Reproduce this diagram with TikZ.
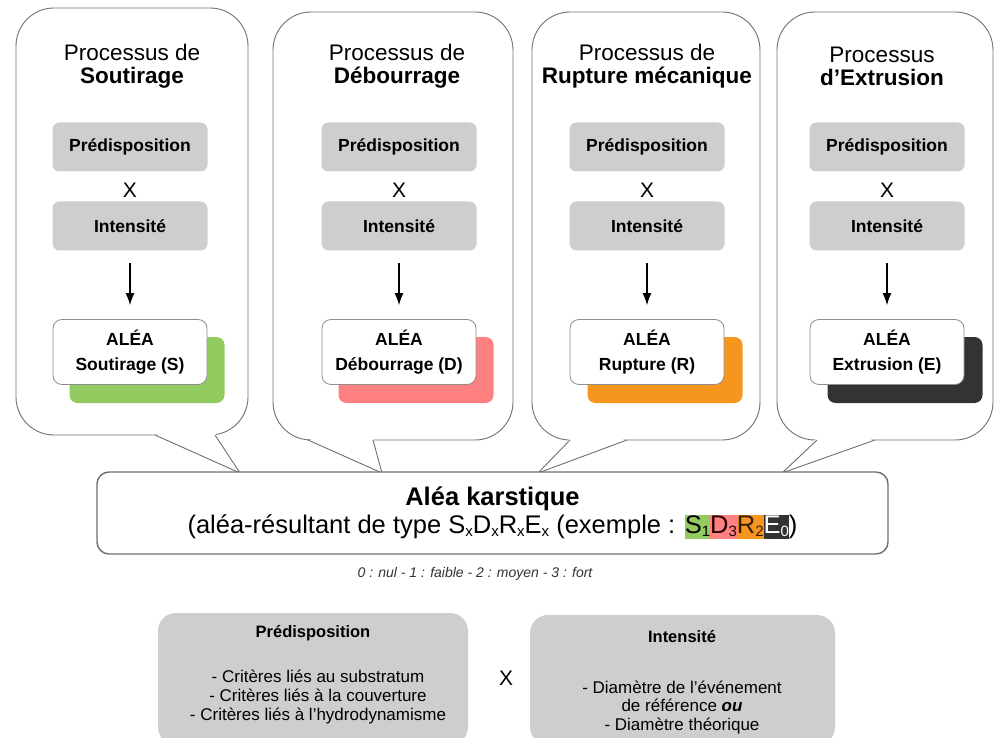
\documentclass[tikz,border=0pt]{standalone}
\usepackage{fontspec}
\setmainfont{Liberation Sans}
\usetikzlibrary{arrows.meta,positioning}

\definecolor{bubbleline}{RGB}{112,112,112}
\definecolor{boxgray}{RGB}{206,206,206}
\definecolor{soutgreen}{RGB}{146,204,96}
\definecolor{debpink}{RGB}{255,128,128}
\definecolor{ruporange}{RGB}{247,150,30}
\definecolor{extdark}{RGB}{51,51,51}

% small lowered index
\newcommand{\idx}[1]{\raisebox{-3pt}{\fontsize{15}{15}\selectfont #1}}
% coloured piece of the example code
\newcommand{\hlpart}[3]{{\setlength{\fboxsep}{0pt}\colorbox{#1}{\rule[-5pt]{0pt}{24pt}\textcolor{#3}{#2}}}}

\begin{document}
\begin{tikzpicture}[x=1pt, y=-1pt,
   bubble/.style={draw=bubbleline, line width=0.9pt, fill=white},
   title/.style={align=center, font=\fontsize{22.5}{23}\selectfont},
   factor/.style={fill=boxgray, rounded corners=7pt, minimum width=155pt,
     minimum height=49pt, font=\fontsize{17.5}{20}\selectfont\bfseries},
   alea/.style={draw=bubbleline!80, line width=0.8pt, fill=white, rounded corners=9pt,
     minimum width=154pt, minimum height=65pt, align=center,
     font=\fontsize{17.5}{25}\selectfont\bfseries},
   shade/.style={fill=#1, rounded corners=8pt, minimum width=155pt, minimum height=66pt},
   times/.style={font=\fontsize{21}{21}\selectfont},
   arr/.style={-{Latex[length=12pt,width=9pt]}, line width=1.1pt,
     shorten <=12pt, shorten >=14pt},
   graybox/.style={fill=boxgray, rounded corners=18pt},
   every node/.style={inner sep=0pt}]
\useasboundingbox (0,0) rectangle (996,738);

% bubble S
\draw[bubble, rounded corners=38pt] (16,8) rectangle (248,435);
\coordinate (tip1) at (240,473);
\fill[white] (155,433) -- (tip1) -- (215,433) -- cycle;
\draw[bubble] (155,435) -- (tip1) -- (215,435);
\node[title] (t1) at (132,66) {Processus de\\\textbf{Soutirage}};
\node[factor] (p1) at (130,147) {Prédisposition};
\node[times] (x1) at (130,190) {X};
\node[factor] (i1) at (130,226) {Intensité};
\node[shade=soutgreen] (s1) at (147,370) {};
\node[alea] (a1) at (130,352) {ALÉA\\Soutirage (S)};
\draw[arr] (i1) -- (a1);

% bubble D
\draw[bubble, rounded corners=38pt] (273,12) rectangle (513,440);
\coordinate (tip2) at (382,473);
\fill[white] (308,438) -- (tip2) -- (373,438) -- cycle;
\draw[bubble] (308,440) -- (tip2) -- (373,440);
\node[title] (t2) at (397,66) {Processus de\\\textbf{Débourrage}};
\node[factor] (p2) at (399,147) {Prédisposition};
\node[times] (x2) at (399,190) {X};
\node[factor] (i2) at (399,226) {Intensité};
\node[shade=debpink] (s2) at (416,370) {};
\node[alea] (a2) at (399,352) {ALÉA\\Débourrage (D)};
\draw[arr] (i2) -- (a2);

% bubble R
\draw[bubble, rounded corners=38pt] (532,12) rectangle (760,440);
\coordinate (tip3) at (538,473);
\fill[white] (570,438) -- (tip3) -- (627,438) -- cycle;
\draw[bubble] (570,440) -- (tip3) -- (627,440);
\node[title] (t3) at (647,66) {Processus de\\\textbf{Rupture mécanique}};
\node[factor] (p3) at (647,147) {Prédisposition};
\node[times] (x3) at (647,190) {X};
\node[factor] (i3) at (647,226) {Intensité};
\node[shade=ruporange] (s3) at (665,370) {};
\node[alea] (a3) at (647,352) {ALÉA\\Rupture (R)};
\draw[arr] (i3) -- (a3);

% bubble E
\draw[bubble, rounded corners=38pt] (777,12) rectangle (993,440);
\coordinate (tip4) at (782,473);
\fill[white] (817,438) -- (tip4) -- (875,438) -- cycle;
\draw[bubble] (817,440) -- (tip4) -- (875,440);
\node[title] (t4) at (882,66) {Processus\\\textbf{d’Extrusion}};
\node[factor] (p4) at (887,147) {Prédisposition};
\node[times] (x4) at (887,190) {X};
\node[factor] (i4) at (887,226) {Intensité};
\node[shade=extdark] (s4) at (905,370) {};
\node[alea] (a4) at (887,352) {ALÉA\\Extrusion (E)};
\draw[arr] (i4) -- (a4);

% resulting hazard
\node[draw=bubbleline, line width=1.4pt, fill=white, rounded corners=12pt,
  minimum width=791pt, minimum height=82pt, align=center,
  font=\fontsize{25.5}{28}\selectfont] (karst) at (492.5,513)
  {\textbf{Aléa karstique}\\(aléa-résultant de type S\idx{x}D\idx{x}R\idx{x}E\idx{x}
   (exemple : \hlpart{soutgreen}{S\idx{1}}{black}\hlpart{debpink}{D\idx{3}}{black!85!red}\hlpart{ruporange}{R\idx{2}}{black!80!ruporange}\hlpart{extdark}{E\idx{0}}{white})};
\node[font=\fontsize{14}{15}\selectfont\itshape, text=black!80] (scale) at (475,574)
  {0 : nul - 1 : faible - 2 : moyen - 3 : fort};

% bottom legend
\node[graybox, minimum width=310pt, minimum height=132pt] (predbox) at (313,679) {};
\node[font=\fontsize{16.5}{18}\selectfont\bfseries] (predtitle) at (313,633) {Prédisposition};
\node[align=center, font=\fontsize{17}{18.5}\selectfont] (predlist) at (318,697)
  {- Critères liés au substratum\\- Critères liés à la couverture\\- Critères liés à l’hydrodynamisme};
\node[times] (xbottom) at (506,678) {X};
\node[graybox, minimum width=305pt, minimum height=130pt] (intbox) at (682.5,680) {};
\node[font=\fontsize{16.5}{18}\selectfont\bfseries] (inttitle) at (682,637) {Intensité};
\node[align=center, font=\fontsize{17}{18.5}\selectfont] (intlist) at (682,707)
  {- Diamètre de l'événement\\de référence \textbf{\textit{ou}}\\- Diamètre théorique};

\end{tikzpicture}
\end{document}
